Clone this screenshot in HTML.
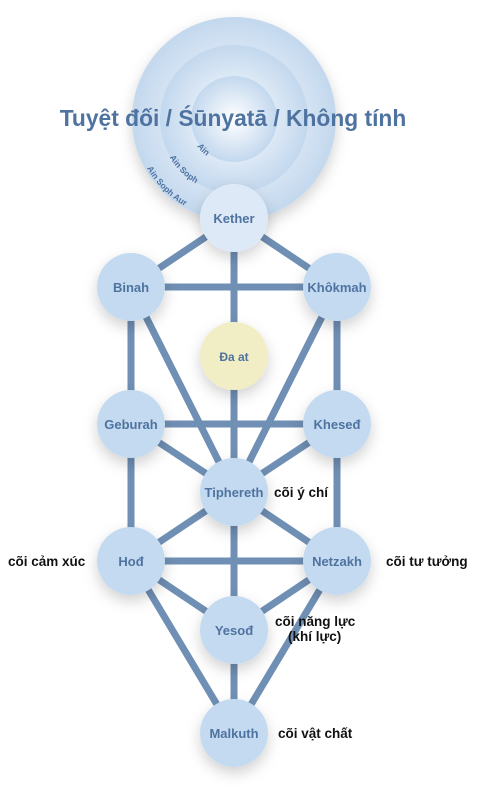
<!DOCTYPE html>
<html><head><meta charset="utf-8"><style>
html,body{margin:0;padding:0;background:#fff}
svg{display:block}
.n{font-family:"Liberation Sans",sans-serif;font-weight:bold;font-size:13px;fill:#4f73a0;text-anchor:middle}
.l{font-family:"Liberation Sans",sans-serif;font-weight:bold;font-size:13.5px;fill:#111}
.a{font-family:"Liberation Sans",sans-serif;font-weight:bold;font-size:8.5px;fill:#4f73a0}
</style></head><body>
<svg width="478" height="807" viewBox="0 0 478 807" xmlns="http://www.w3.org/2000/svg">
<defs>
<radialGradient id="g1" cx="50%" cy="50%" r="50%">
<stop offset="0" stop-color="#ffffff"/><stop offset="1" stop-color="#c3d8ee"/></radialGradient>
<filter id="sh" x="-50%" y="-50%" width="200%" height="200%">
<feDropShadow dx="0" dy="6" stdDeviation="7" flood-color="#000" flood-opacity="0.18"/></filter>
<path id="p1" d="M188.2,123 A46,46 0 0 0 230,164.8"/>
<path id="p2" d="M159.3,125.5 A75,75 0 0 0 227.5,193.7"/>
<path id="p3" d="M134.4,127.7 A100,100 0 0 0 225.3,218.6"/>
</defs>
<g filter="url(#sh)">
<circle cx="234" cy="119" r="102" fill="url(#g1)"/>
</g>
<circle cx="234" cy="119" r="74" fill="url(#g1)"/>
<circle cx="234" cy="119" r="43" fill="url(#g1)"/>
<text x="233" y="126" text-anchor="middle" style="font-family:'Liberation Sans',sans-serif;font-weight:bold;font-size:22.8px;fill:#4f73a0">Tuyệt đối / Śūnyatā / Không tính</text>
<text class="a"><textPath href="#p1" startOffset="50%" text-anchor="middle">Ain</textPath></text>
<text class="a"><textPath href="#p2" startOffset="50%" text-anchor="middle">Ain Soph</textPath></text>
<text class="a"><textPath href="#p3" startOffset="50%" text-anchor="middle">Ain Soph Aur</textPath></text>
<g stroke="#6f8fb4" stroke-width="7" stroke-linecap="butt">
<line x1="234" y1="218" x2="131" y2="287"/>
<line x1="234" y1="218" x2="337" y2="287"/>
<line x1="234" y1="218" x2="234" y2="492"/>
<line x1="131" y1="287" x2="337" y2="287"/>
<line x1="131" y1="287" x2="131" y2="561"/>
<line x1="337" y1="287" x2="337" y2="561"/>
<line x1="131" y1="287" x2="234" y2="492"/>
<line x1="337" y1="287" x2="234" y2="492"/>
<line x1="131" y1="424" x2="337" y2="424"/>
<line x1="131" y1="424" x2="234" y2="492"/>
<line x1="337" y1="424" x2="234" y2="492"/>
<line x1="234" y1="492" x2="131" y2="561"/>
<line x1="234" y1="492" x2="337" y2="561"/>
<line x1="234" y1="492" x2="234" y2="733"/>
<line x1="131" y1="561" x2="337" y2="561"/>
<line x1="131" y1="561" x2="234" y2="630"/>
<line x1="337" y1="561" x2="234" y2="630"/>
<line x1="131" y1="561" x2="234" y2="733"/>
<line x1="337" y1="561" x2="234" y2="733"/>
</g>
<g filter="url(#sh)" fill="#c4daf0">
<circle cx="234" cy="218" r="34" fill="#dde9f6"/>
<circle cx="131" cy="287" r="34"/>
<circle cx="337" cy="287" r="34"/>
<circle cx="234" cy="356" r="34" fill="#f1edc4"/>
<circle cx="131" cy="424" r="34"/>
<circle cx="337" cy="424" r="34"/>
<circle cx="234" cy="492" r="34"/>
<circle cx="131" cy="561" r="34"/>
<circle cx="337" cy="561" r="34"/>
<circle cx="234" cy="630" r="34"/>
<circle cx="234" cy="733" r="34"/>
</g>
<text class="n" x="234" y="223">Kether</text>
<text class="n" x="131" y="292">Binah</text>
<text class="n" x="337" y="292">Khôkmah</text>
<text class="n" x="234" y="361" style="font-size:12px">Đa at</text>
<text class="n" x="131" y="429">Geburah</text>
<text class="n" x="337" y="429">Kheseđ</text>
<text class="n" x="234" y="497">Tiphereth</text>
<text class="n" x="131" y="566">Hođ</text>
<text class="n" x="337" y="566">Netzakh</text>
<text class="n" x="234" y="635">Yesođ</text>
<text class="n" x="234" y="738">Malkuth</text>
<text class="l" x="274" y="497">cõi ý chí</text>
<text class="l" x="8" y="566">cõi cảm xúc</text>
<text class="l" x="386" y="566">cõi tư tưởng</text>
<text class="l" x="275" y="626">cõi năng lực</text>
<text class="l" x="288" y="641">(khí lực)</text>
<text class="l" x="278" y="738">cõi vật chất</text>
</svg>
</body></html>
